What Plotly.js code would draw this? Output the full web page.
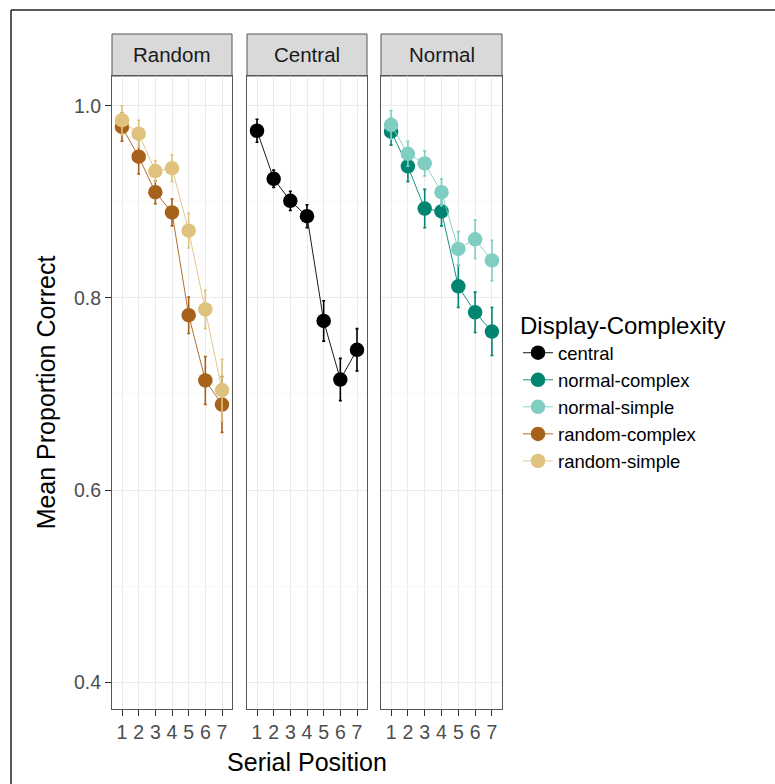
<!DOCTYPE html>
<html>
<head>
<meta charset="utf-8">
<script src="https://cdn.plot.ly/plotly-3.0.1.min.js"></script>
<style>html,body{margin:0;padding:0;background:#fff;}#chart{width:775px;height:784px;}</style>
</head>
<body>
<div id="chart"></div>
<script>
// ---- data ----
const serialPosition = [1, 2, 3, 4, 5, 6, 7];
const panelNames = ["Random", "Central", "Normal"];
const seriesNames = ["central", "normal-complex", "normal-simple", "random-complex", "random-simple"];
const centralMean = [0.974, 0.924, 0.901, 0.885, 0.776, 0.715, 0.746];
const centralSE = [0.012, 0.009, 0.010, 0.012, 0.021, 0.022, 0.022];
const normalComplexMean = [0.973, 0.937, 0.893, 0.890, 0.812, 0.785, 0.765];
const normalComplexSE = [0.014, 0.016, 0.020, 0.015, 0.022, 0.021, 0.025];
const normalSimpleMean = [0.980, 0.950, 0.940, 0.910, 0.851, 0.861, 0.839];
const normalSimpleSE = [0.015, 0.013, 0.013, 0.014, 0.018, 0.020, 0.021];
const randomComplexMean = [0.978, 0.947, 0.910, 0.889, 0.782, 0.714, 0.689];
const randomComplexSE = [0.015, 0.018, 0.012, 0.014, 0.019, 0.025, 0.029];
const randomSimpleMean = [0.985, 0.971, 0.932, 0.935, 0.870, 0.788, 0.704];
const randomSimpleSE = [0.015, 0.014, 0.011, 0.014, 0.018, 0.020, 0.032];
const yTickVals = [0.4, 0.6, 0.8, 1.0];
const yTickText = ["0.4", "0.6", "0.8", "1.0"];

// ---- styles ----
const colors = {
  "central": "#000000",
  "normal-complex": "#018571",
  "normal-simple": "#80CDC1",
  "random-complex": "#A6611A",
  "random-simple": "#DFC27D"
};
const FONT = "Liberation Sans, Arial, Helvetica, sans-serif";

function mk(name, y, se, xa, ya) {
  const c = colors[name];
  return {
    type: "scatter", mode: "lines+markers", name: name,
    x: serialPosition, y: y,
    xaxis: xa, yaxis: ya,
    line: {color: c, width: 0.9},
    marker: {color: c, size: 14.5, line: {width: 0}},
    error_y: {type: "data", array: se, visible: true, color: c, thickness: 1.6, width: 1.5}
  };
}

const traces = [
  mk("central", centralMean, centralSE, "x2", "y2"),
  mk("normal-complex", normalComplexMean, normalComplexSE, "x3", "y3"),
  mk("normal-simple", normalSimpleMean, normalSimpleSE, "x3", "y3"),
  mk("random-complex", randomComplexMean, randomComplexSE, "x", "y"),
  mk("random-simple", randomSimpleMean, randomSimpleSE, "x", "y")
];

// geometry (pixels -> paper)
const L = 112, R = 502, T = 34, B = 709;
const W = R - L, H = B - T;
const px = v => (v - L) / W;
const py = v => (B - v) / H;
const panelPx = [[112, 232], [247, 367], [381, 502]];
const stripBottom = 76;
const yDomTop = py(stripBottom);

function xax(i, extra) {
  return Object.assign({
    domain: [px(panelPx[i][0]), px(panelPx[i][1])],
    range: [0.4, 7.6],
    tickvals: serialPosition,
    ticktext: serialPosition.map(String),
    ticks: "outside", ticklen: 6, tickwidth: 1, tickcolor: "#333333",
    tickfont: {family: FONT, size: 19.5, color: "#4d4d4d"},
    showgrid: true, gridcolor: "#ebebeb", gridwidth: 1,
    zeroline: false,
    showline: true, mirror: true, linecolor: "#555555", linewidth: 1,
    fixedrange: true
  }, extra || {});
}
function yax(i, extra) {
  return Object.assign({
    domain: [0, yDomTop],
    range: [0.372, 1.031],
    tickvals: yTickVals, ticktext: yTickText,
    ticks: i === 0 ? "outside" : "",
    ticklen: 6, tickwidth: 1, tickcolor: "#333333",
    showticklabels: i === 0,
    tickfont: {family: FONT, size: 19.5, color: "#4d4d4d"},
    showgrid: true, gridcolor: "#ebebeb", gridwidth: 1,
    minor: {tickvals: [0.5, 0.7, 0.9], showgrid: true, gridcolor: "#f2f2f2", gridwidth: 0.6, ticks: ""},
    zeroline: false,
    showline: true, mirror: true, linecolor: "#555555", linewidth: 1,
    fixedrange: true
  }, extra || {});
}

const shapes = [];
const annotations = [];
panelPx.forEach((p, i) => {
  shapes.push({
    type: "rect", xref: "paper", yref: "paper",
    x0: px(p[0]), x1: px(p[1]), y0: yDomTop, y1: 1,
    fillcolor: "#d9d9d9", line: {color: "#555555", width: 1}, layer: "below"
  });
  annotations.push({
    xref: "paper", yref: "paper",
    x: (px(p[0]) + px(p[1])) / 2, y: (yDomTop + 1) / 2,
    xanchor: "center", yanchor: "middle",
    text: panelNames[i], showarrow: false,
    font: {family: FONT, size: 20.5, color: "#1a1a1a"}
  });
});
// outer frame (top and left edges visible)
shapes.push({type: "line", xref: "paper", yref: "paper",
  x0: px(11), x1: px(11), y0: py(800), y1: py(10), line: {color: "#222222", width: 1.5}});
shapes.push({type: "line", xref: "paper", yref: "paper",
  x0: px(11), x1: px(800), y0: py(10), y1: py(10), line: {color: "#222222", width: 1.5}});

const layout = {
  width: 775, height: 784,
  margin: {l: L, r: 775 - R, t: T, b: 784 - B, pad: 0},
  paper_bgcolor: "#ffffff", plot_bgcolor: "#ffffff",
  showlegend: true,
  font: {family: FONT},
  xaxis: xax(0),
  xaxis2: xax(1, {title: {text: "Serial Position", font: {family: FONT, size: 25, color: "#000000"}, standoff: 11}}),
  xaxis3: xax(2),
  yaxis: yax(0, {title: {text: "Mean Proportion Correct", font: {family: FONT, size: 25, color: "#000000"}, standoff: 11}}),
  yaxis2: yax(1, {matches: "y", anchor: "x2"}),
  yaxis3: yax(2, {matches: "y", anchor: "x3"}),
  legend: {
    x: px(518), y: py(303), xanchor: "left", yanchor: "top",
    xref: "paper", yref: "paper",
    title: {text: "Display-Complexity", font: {family: FONT, size: 24, color: "#000000"}},
    font: {family: FONT, size: 18.5, color: "#000000"},
    traceorder: "normal",
    bgcolor: "rgba(0,0,0,0)", borderwidth: 0
  },
  shapes: shapes,
  annotations: annotations
};
layout.xaxis.anchor = "y";
layout.xaxis2.anchor = "y2";
layout.xaxis3.anchor = "y3";

Plotly.newPlot("chart", traces, layout, {displayModeBar: false, staticPlot: true});
</script>
</body>
</html>
